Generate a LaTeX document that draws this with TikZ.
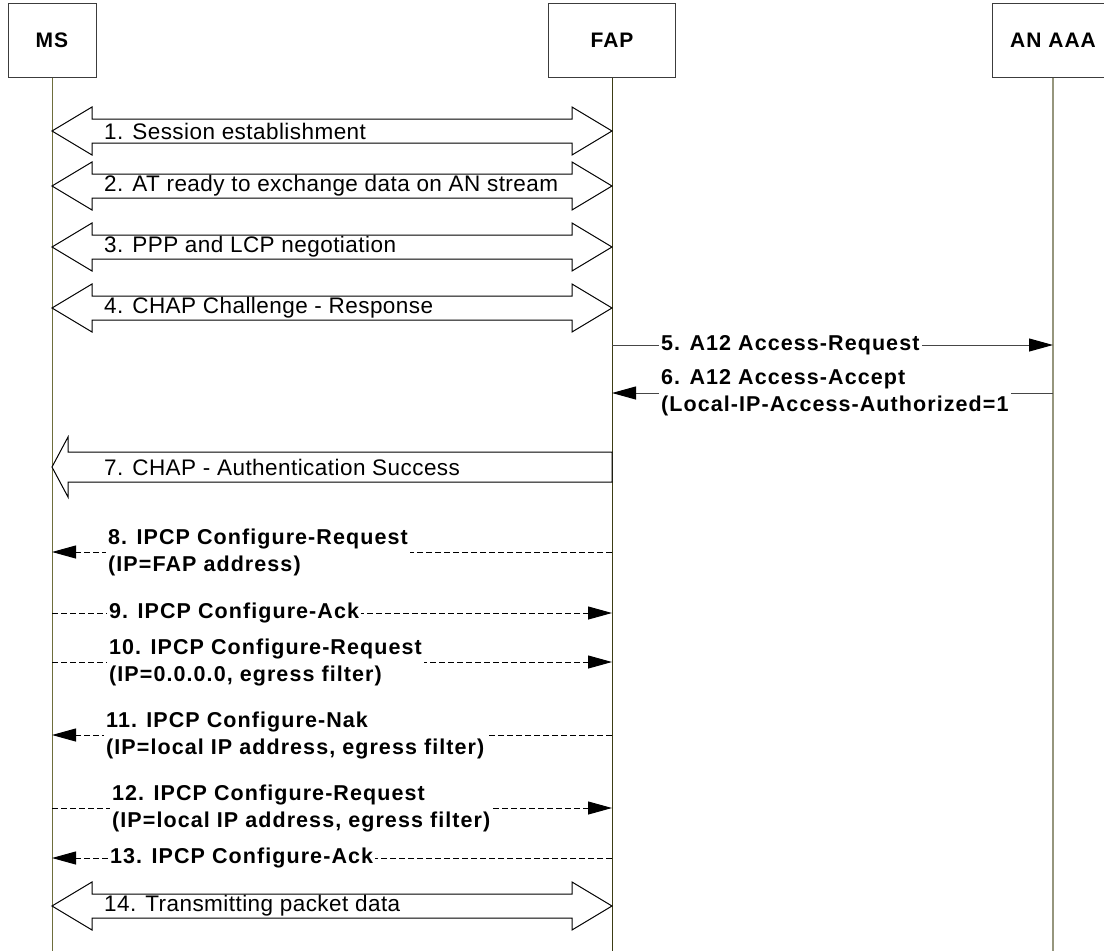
\documentclass[tikz,border=0pt]{standalone}
\usepackage{fontspec}
\setmainfont{Liberation Sans}
\newfontfamily\plainlbl{Liberation Sans}[LetterSpace=2]
\newfontfamily\boldlbl{Liberation Sans}[LetterSpace=5]
\usetikzlibrary{arrows.meta}

\definecolor{lineMS}{RGB}{110,110,60}
\definecolor{lineFAP}{RGB}{60,60,20}
\definecolor{lineAAA}{RGB}{150,150,125}
\definecolor{boxline}{RGB}{60,60,60}

\tikzset{
  entity/.style={draw=boxline, line width=1pt, fill=white, inner sep=0pt,
    font=\boldlbl\bfseries\fontsize{21}{25}\selectfont},
  life/.style={line width=1pt},
  blockarrow/.style={draw=black, line width=1pt, fill=white, line join=miter},
  blocklbl/.style={anchor=west, inner sep=0pt,
    font=\plainlbl\fontsize{22.5}{26}\selectfont},
  msglbl/.style={anchor=west, fill=white, inner xsep=2pt, inner ysep=1pt, align=left,
    font=\boldlbl\bfseries\fontsize{21.5}{27}\selectfont},
  msgsolid/.style={draw={rgb,255:red,70;green,70;blue,70}, line width=1pt,
    -{Triangle[length=24pt,width=13pt,color=black]}},
  msgdash/.style={draw=black, line width=1pt, dash pattern=on 6pt off 3pt,
    -{Triangle[length=24pt,width=13pt]}},
}

% double-headed block arrow between the MS and FAP lifelines, centred at height #1
\newcommand\bothways[2]{%
  \draw[blockarrow] (ms |- 0,#1) -- ++(40,-24) -- ++(0,12) -- ([xshift=-40pt]fap |- 0,#1-12)
    -- ++(0,-12) -- (fap |- 0,#1) -- ++(-40,24) -- ++(0,-12) -- ([xshift=40pt]ms |- 0,#1+12)
    -- ++(0,12) -- cycle;
  \node[blocklbl] (#2) at (104,#1) }

\begin{document}
\begin{tikzpicture}[x=1pt, y=-1pt]
  \useasboundingbox (0,0) rectangle (1104,951);

  % participants
  \node[entity, minimum width=88pt, minimum height=74pt] (ms) at (52,40) {MS};
  \node[entity, minimum width=127pt, minimum height=74pt] (fap) at (612,40) {FAP};
  \node[entity, minimum width=122pt, minimum height=74pt] (aaa) at (1053,40) {AN AAA};

  % lifelines
  \draw[life, lineMS] (ms.south) -- (ms |- 0,951);
  \draw[life, lineFAP] (fap.south) -- (fap |- 0,951);
  \draw[life, lineAAA, line width=2pt] (aaa.south) -- (aaa |- 0,951);

  % session set-up exchanges
  \bothways{131}{s1} {1. Session establishment};
  \bothways{186}{s2} {2. AT ready to exchange data on AN stream};
  \bothways{247}{s3} {3. PPP and LCP negotiation};
  \bothways{308}{s4} {4. CHAP Challenge - Response};

  % A12 authentication
  \draw[msgsolid] (fap |- 0,345) -- (aaa |- 0,345);
  \node[msglbl] (m5) at (659,345) {5. A12 Access-Request};
  \draw[msgsolid] (aaa |- 0,393) -- (fap |- 0,393);
  \node[msglbl] (m6) at (659,393) {6. A12 Access-Accept\\(Local-IP-Access-Authorized=1};

  % CHAP success, one-way block arrow
  \draw[blockarrow] (ms |- 0,467) -- (68,437) -- (68,452) -- (fap |- 0,452)
    -- (fap |- 0,482) -- (68,482) -- (68,497) -- cycle;
  \node[blocklbl] (s7) at (104,467) {7. CHAP - Authentication Success};

  % IPCP negotiation
  \draw[msgdash] (fap |- 0,552) -- (ms |- 0,552);
  \node[msglbl] (m8) at (106,552) {8. IPCP Configure-Request\\(IP=FAP address)};
  \draw[msgdash] (ms |- 0,613) -- (fap |- 0,613);
  \node[msglbl] (m9) at (107,613) {9. IPCP Configure-Ack};
  \draw[msgdash] (ms |- 0,662) -- (fap |- 0,662);
  \node[msglbl] (m10) at (107,662) {10. IPCP Configure-Request\\(IP=0.0.0.0, egress filter)};
  \draw[msgdash] (fap |- 0,735) -- (ms |- 0,735);
  \node[msglbl] (m11) at (104,735) {11. IPCP Configure-Nak\\(IP=local IP address, egress filter)};
  \draw[msgdash] (ms |- 0,808) -- (fap |- 0,808);
  \node[msglbl] (m12) at (110,808) {12. IPCP Configure-Request\\(IP=local IP address, egress filter)};
  \draw[msgdash] (fap |- 0,858) -- (ms |- 0,858);
  \node[msglbl] (m13) at (108,858) {13. IPCP Configure-Ack};

  % data transfer
  \bothways{906}{s14} {14. Transmitting packet data};
\end{tikzpicture}
\end{document}
